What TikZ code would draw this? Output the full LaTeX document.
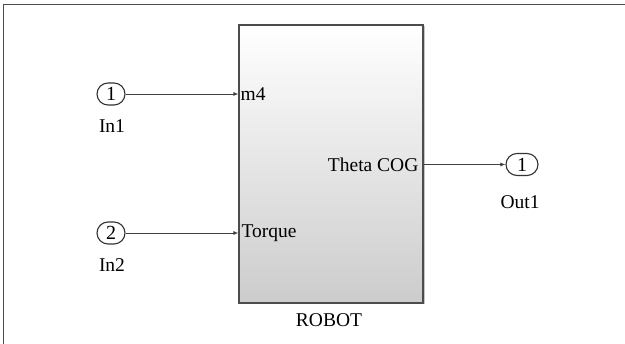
\documentclass[tikz,border=0pt]{standalone}
\usepackage{fontspec}
\setmainfont{Liberation Serif}
\usetikzlibrary{arrows.meta,positioning,shadows}

\begin{document}
\begin{tikzpicture}[x=1pt,y=-1pt,
  port/.style={draw=black!80,fill=white,line width=1.1pt,rounded corners=11pt,minimum width=28pt,minimum height=22pt,inner sep=0pt,font=\fontsize{20}{22}\selectfont},
  block/.style={draw=black!70,line width=1.2pt,top color=white,bottom color=black!20,minimum width=184pt,minimum height=278pt,inner sep=0pt,
    drop shadow={shadow xshift=1.5pt,shadow yshift=-1.5pt,fill=black!45}},
  lbl/.style={font=\fontsize{19.5}{22}\selectfont,inner sep=0pt,anchor=base},
  pin/.style={font=\fontsize{19.5}{22}\selectfont,inner ysep=0pt},
  flow/.style={-{Latex[length=5pt,width=4pt]},draw=black!75,line width=0.9pt}]
\useasboundingbox (0,0) rectangle (625,344);
% open frame, only top and left edges show
\draw[black!70,line width=1.8pt] (625,4.5) -- (3.5,4.5) -- (3.5,344);
\node[block] (robot) at (331,164) {};
\node[lbl] (robotlbl) at (329,327) {ROBOT};
\node[port] (in1) at (111,94) {1};
\node[lbl] (in1lbl) at (112,133) {In1};
\node[port] (in2) at (111,233) {2};
\node[lbl] (in2lbl) at (112,272) {In2};
\node[port,minimum width=32pt] (out1) at (522,164.5) {1};
\node[lbl] (out1lbl) at (520,209) {Out1};
\node[pin,anchor=west,inner xsep=2pt] (m4) at (robot.west |- in1) {m4};
\node[pin,anchor=west,inner xsep=3pt] (torque) at (robot.west |- in2) {Torque};
\node[pin,anchor=east,inner xsep=5pt] (theta) at (robot.east |- out1) {Theta COG};
\draw[flow] (in1.east) -- (m4.west);
\draw[flow] (in2.east) -- (torque.west);
\draw[flow] (theta.east) -- (out1.west);
\end{tikzpicture}
\end{document}
